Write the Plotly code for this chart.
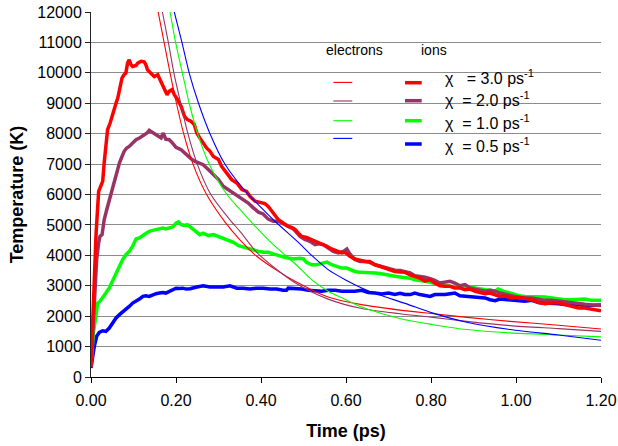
import plotly.graph_objects as go

# ---------------- data ----------------
# Ion temperatures (thick noisy curves)
t_ion_red = [0.000, 0.004, 0.008, 0.012, 0.018, 0.0235, 0.0275, 0.031, 0.035, 0.039, 0.045, 0.051,
             0.059, 0.063, 0.067, 0.073, 0.078, 0.082, 0.086, 0.090, 0.094, 0.098, 0.106, 0.110,
             0.118, 0.125, 0.129, 0.133, 0.141, 0.149, 0.157, 0.165, 0.173, 0.179, 0.184, 0.191,
             0.196, 0.204, 0.212, 0.220, 0.227, 0.235, 0.243, 0.249, 0.256, 0.264, 0.272, 0.280,
             0.288, 0.300, 0.307, 0.319, 0.331, 0.343, 0.355, 0.366, 0.374, 0.386, 0.398, 0.409,
             0.417, 0.425, 0.433, 0.441, 0.453, 0.464, 0.472, 0.480, 0.488, 0.496, 0.507, 0.519,
             0.531, 0.543, 0.555, 0.566, 0.578, 0.590, 0.598, 0.609, 0.621, 0.633, 0.645, 0.656,
             0.668, 0.680, 0.692, 0.703, 0.715, 0.727, 0.739, 0.751, 0.762, 0.774, 0.786, 0.798,
             0.809, 0.821, 0.833, 0.845, 0.856, 0.868, 0.880, 0.892, 0.904, 0.915, 0.927, 0.939,
             0.951, 0.962, 0.974, 0.990, 1.006, 1.021, 1.037, 1.053, 1.068, 1.084, 1.100, 1.115,
             1.131, 1.147, 1.162, 1.178, 1.200]
T_ion_red = [350, 2000, 3600, 4730, 6100, 6320, 6430, 7040, 7580, 8130, 8350, 8680,
             9010, 9170, 9450, 9830, 9940, 9990, 10320, 10430, 10270, 10210, 10240, 10320,
             10380, 10360, 10270, 10100, 9990, 9880, 9940, 9720, 9500, 9280, 9390, 9450,
             9280, 9120, 8900, 8570, 8460, 8410, 8300, 8020, 7860, 7690, 7530, 7420,
             7250, 7150, 6930, 6710, 6490, 6380, 6160, 6100, 5940, 5780, 5740, 5700,
             5610, 5450, 5340, 5170, 5060, 4950, 4920, 4850, 4730, 4620, 4590, 4520,
             4430, 4380, 4300, 4210, 4130, 4080, 4100, 3970, 3880, 3840, 3800, 3800,
             3690, 3640, 3580, 3550, 3470, 3450, 3440, 3360, 3310, 3250, 3150, 3200,
             3090, 3000, 2980, 2980, 2930, 2930, 2870, 2890, 2820, 2780, 2740, 2760,
             2710, 2650, 2660, 2600, 2630, 2600, 2540, 2450, 2410, 2430, 2450, 2380,
             2320, 2270, 2270, 2240, 2180]

t_ion_purple = [0.000, 0.0078, 0.0133, 0.018, 0.021, 0.026, 0.031, 0.037, 0.043, 0.051, 0.059, 0.067,
                0.073, 0.078, 0.084, 0.090, 0.098, 0.106, 0.114, 0.120, 0.125, 0.132, 0.137, 0.141,
                0.149, 0.157, 0.165, 0.170, 0.176, 0.184, 0.192, 0.200, 0.212, 0.224, 0.235, 0.245,
                0.256, 0.264, 0.276, 0.288, 0.300, 0.311, 0.323, 0.335, 0.347, 0.358, 0.370, 0.382,
                0.394, 0.405, 0.417, 0.429, 0.441, 0.452, 0.464, 0.476, 0.484, 0.492, 0.503, 0.515,
                0.527, 0.535, 0.547, 0.558, 0.570, 0.582, 0.594, 0.602, 0.609, 0.621, 0.633, 0.645,
                0.656, 0.668, 0.680, 0.692, 0.703, 0.715, 0.727, 0.739, 0.751, 0.762, 0.774, 0.786,
                0.798, 0.809, 0.821, 0.833, 0.845, 0.856, 0.868, 0.880, 0.892, 0.904, 0.915, 0.927,
                0.939, 0.951, 0.962, 0.974, 0.990, 1.006, 1.021, 1.037, 1.053, 1.068, 1.084, 1.100,
                1.115, 1.131, 1.147, 1.162, 1.178, 1.200]
T_ion_purple = [350, 2540, 3860, 4410, 4620, 4680, 5170, 5500, 5830, 6270, 6600, 7040,
                7250, 7420, 7530, 7580, 7690, 7800, 7860, 7910, 7970, 8020, 8110, 8080,
                8000, 7930, 7860, 8020, 7820, 7800, 7690, 7550, 7470, 7310, 7180, 7090,
                7040, 6980, 6820, 6650, 6490, 6270, 6160, 6050, 5940, 5850, 5720, 5560,
                5420, 5360, 5190, 5120, 5120, 5040, 4950, 4870, 4750, 4620, 4520, 4460,
                4350, 4380, 4350, 4240, 4130, 4080, 4130, 4210, 4050, 3860, 3800, 3800,
                3770, 3690, 3640, 3580, 3550, 3510, 3500, 3470, 3420, 3330, 3310, 3280,
                3230, 3180, 3090, 3110, 3150, 3090, 3000, 3040, 2930, 2890, 2870, 2820,
                2850, 2820, 2760, 2730, 2670, 2600, 2600, 2600, 2560, 2520, 2520, 2490,
                2450, 2430, 2410, 2390, 2370, 2350]

t_ion_green = [0.000, 0.0055, 0.0102, 0.0157, 0.021, 0.0275, 0.035, 0.043, 0.051, 0.059, 0.067, 0.0745,
               0.082, 0.090, 0.098, 0.106, 0.114, 0.122, 0.129, 0.137, 0.145, 0.153, 0.161, 0.169,
               0.176, 0.184, 0.192, 0.200, 0.206, 0.212, 0.220, 0.227, 0.235, 0.243, 0.256, 0.264,
               0.276, 0.288, 0.300, 0.311, 0.323, 0.335, 0.347, 0.358, 0.370, 0.382, 0.394, 0.405,
               0.417, 0.429, 0.441, 0.452, 0.464, 0.476, 0.492, 0.500, 0.507, 0.519, 0.531, 0.543,
               0.555, 0.566, 0.578, 0.590, 0.602, 0.609, 0.621, 0.633, 0.645, 0.656, 0.668, 0.680,
               0.692, 0.703, 0.715, 0.727, 0.739, 0.751, 0.762, 0.774, 0.786, 0.798, 0.809, 0.821,
               0.833, 0.845, 0.856, 0.868, 0.880, 0.892, 0.904, 0.915, 0.927, 0.939, 0.951, 0.958,
               0.970, 0.986, 1.006, 1.021, 1.037, 1.053, 1.068, 1.084, 1.100, 1.115, 1.131, 1.147,
               1.162, 1.178, 1.200]
T_ion_green = [350, 1450, 1880, 2430, 2490, 2600, 2760, 2930, 3150, 3420, 3640, 3860,
               4020, 4130, 4300, 4540, 4570, 4650, 4730, 4790, 4820, 4840, 4870, 4900,
               4870, 4890, 4930, 5060, 5100, 5010, 4980, 5010, 4920, 4800, 4680, 4730,
               4650, 4680, 4620, 4570, 4520, 4430, 4320, 4270, 4240, 4160, 4130, 4100,
               4100, 4050, 3990, 3950, 3910, 3880, 3900, 3880, 3770, 3690, 3690, 3730,
               3780, 3690, 3640, 3580, 3580, 3530, 3470, 3440, 3440, 3420, 3420, 3400,
               3360, 3330, 3310, 3290, 3280, 3250, 3200, 3180, 3150, 3110, 3070, 3040,
               3000, 2980, 2980, 2960, 2930, 2960, 2930, 2890, 2870, 2850, 2820, 2890,
               2820, 2760, 2670, 2650, 2650, 2630, 2630, 2600, 2560, 2540, 2540, 2540,
               2560, 2520, 2520]

t_ion_blue = [0.000, 0.0039, 0.0078, 0.0133, 0.0196, 0.0275, 0.035, 0.043, 0.051, 0.059, 0.067, 0.0745,
              0.082, 0.090, 0.098, 0.106, 0.114, 0.122, 0.129, 0.137, 0.145, 0.153, 0.161, 0.169,
              0.176, 0.184, 0.192, 0.200, 0.208, 0.216, 0.224, 0.233, 0.249, 0.264, 0.280, 0.296,
              0.311, 0.327, 0.343, 0.358, 0.374, 0.390, 0.405, 0.421, 0.437, 0.452, 0.460, 0.464,
              0.480, 0.496, 0.511, 0.527, 0.543, 0.558, 0.574, 0.590, 0.605, 0.621, 0.637, 0.652,
              0.668, 0.684, 0.700, 0.715, 0.727, 0.739, 0.751, 0.762, 0.774, 0.786, 0.798, 0.809,
              0.821, 0.833, 0.845, 0.856, 0.868, 0.880, 0.892, 0.904, 0.915, 0.927, 0.939, 0.951,
              0.962, 0.974, 0.990, 1.006, 1.021, 1.037, 1.053, 1.068, 1.084, 1.100, 1.115, 1.131,
              1.147, 1.162, 1.178, 1.200]
T_ion_blue = [300, 680, 1010, 1340, 1470, 1520, 1500, 1610, 1800, 1940, 2050, 2130,
              2210, 2320, 2430, 2490, 2560, 2650, 2670, 2650, 2710, 2740, 2760, 2780,
              2760, 2810, 2870, 2920, 2910, 2920, 2890, 2900, 2960, 3000, 2960, 2960,
              2960, 3000, 2920, 2920, 2890, 2920, 2920, 2890, 2890, 2850, 2850, 2920,
              2910, 2890, 2850, 2840, 2820, 2850, 2850, 2820, 2820, 2820, 2850, 2780,
              2760, 2730, 2760, 2710, 2750, 2710, 2710, 2760, 2710, 2670, 2650, 2710,
              2710, 2710, 2740, 2760, 2670, 2650, 2630, 2630, 2600, 2600, 2540, 2510,
              2560, 2540, 2520, 2490, 2490, 2520, 2450, 2430, 2430, 2410, 2380, 2380,
              2380, 2350, 2370, 2370]

# Electron temperatures (thin smooth curves, enter from above the 12000 K top)
t_el_red = [0.158, 0.172, 0.186, 0.201, 0.218, 0.240, 0.272, 0.315, 0.351, 0.390, 0.440, 0.480,
            0.558, 0.637, 0.727, 0.805, 0.884, 0.986, 1.100, 1.200]
T_el_red = [12000, 11000, 10000, 9000, 8000, 7000, 6000, 5100, 4500, 3970, 3480, 3150,
            2630, 2380, 2200, 2080, 1960, 1830, 1700, 1580]

t_el_purple = [0.168, 0.182, 0.195, 0.211, 0.228, 0.250, 0.282, 0.325, 0.351, 0.390, 0.440, 0.480,
               0.558, 0.637, 0.727, 0.805, 0.884, 0.986, 1.100, 1.200]
T_el_purple = [12000, 11000, 10000, 9000, 8000, 7000, 6000, 5200, 4780, 4100, 3500, 3100,
               2560, 2250, 2080, 1960, 1830, 1690, 1590, 1500]

t_el_green = [0.186, 0.199, 0.215, 0.231, 0.251, 0.278, 0.320, 0.351, 0.390, 0.429, 0.486, 0.519,
              0.558, 0.598, 0.637, 0.676, 0.739, 0.805, 0.884, 0.986, 1.100, 1.200]
T_el_green = [12000, 11000, 10000, 9000, 8000, 7000, 6000, 5500, 4900, 4350, 3650, 3200,
              2820, 2550, 2300, 2120, 1880, 1720, 1560, 1450, 1380, 1320]

t_el_blue = [0.196, 0.214, 0.231, 0.253, 0.280, 0.315, 0.370, 0.390, 0.429, 0.486, 0.519, 0.558,
             0.598, 0.637, 0.676, 0.739, 0.805, 0.884, 0.986, 1.100, 1.200]
T_el_blue = [12000, 11000, 10000, 9000, 8000, 7000, 6000, 5720, 5170, 4450, 4000, 3530,
             3200, 2930, 2710, 2420, 2100, 1800, 1560, 1380, 1210]

series_labels = ["3.0", "2.0", "1.0", "0.5"]
colors = ["#FF0000", "#993366", "#00FF00", "#0000FF"]

x_ticks = [0.0, 0.2, 0.4, 0.6, 0.8, 1.0, 1.2]
y_ticks = list(range(0, 12001, 1000))

# ---------------- figure ----------------
FONT = "Liberation Sans, Arial, sans-serif"
fig = go.Figure()

ions = [(t_ion_red, T_ion_red), (t_ion_purple, T_ion_purple),
        (t_ion_green, T_ion_green), (t_ion_blue, T_ion_blue)]
elecs = [(t_el_red, T_el_red), (t_el_purple, T_el_purple),
         (t_el_green, T_el_green), (t_el_blue, T_el_blue)]

# ions drawn blue first, red last (red on top)
for i in [3, 2, 1, 0]:
    tx, ty = ions[i]
    fig.add_trace(go.Scatter(x=tx, y=ty, mode="lines",
                             line=dict(color=colors[i], width=3.5),
                             name="ions " + series_labels[i], hoverinfo="skip"))
for i in range(4):
    tx, ty = elecs[i]
    fig.add_trace(go.Scatter(x=tx, y=ty, mode="lines",
                             line=dict(color=colors[i], width=1.1, shape="spline", smoothing=0.8),
                             name="electrons " + series_labels[i], hoverinfo="skip"))

W, H = 618, 446
# plot area in page pixels: x 91..601, y 12.3..377.3
L, R, T, B = 91, 601, 12.3, 377.3
def px(x):
    return (x - L) / (R - L)
def py(y):
    return (B - y) / (B - T)

shapes = []
annotations = []
# legend background (covers gridlines)
shapes.append(dict(type="rect", xref="paper", yref="paper",
                   x0=px(326), x1=px(566), y0=py(156), y1=py(45),
                   fillcolor="white", line=dict(width=0), layer="between"))
annotations.append(dict(text="electrons", xref="paper", yref="paper", x=px(354.5), y=py(50),
                        showarrow=False, font=dict(family=FONT, size=14, color="black"),
                        xanchor="center", yanchor="middle"))
annotations.append(dict(text="ions", xref="paper", yref="paper", x=px(434), y=py(50),
                        showarrow=False, font=dict(family=FONT, size=14, color="black"),
                        xanchor="center", yanchor="middle"))
el_rows = [82.7, 101.3, 121, 138.7]
ion_rows = [83, 101, 121, 144.3]
lab_rows = [77.5, 99.5, 122, 145.5]
gaps = ["\u00a0\u00a0\u00a0", "\u00a0\u00a0", "\u00a0\u00a0", "\u00a0\u00a0"]
for i in range(4):
    shapes.append(dict(type="line", xref="paper", yref="paper",
                       x0=px(333.3), x1=px(352.3), y0=py(el_rows[i]), y1=py(el_rows[i]),
                       line=dict(color=colors[i], width=1.1), layer="above"))
    shapes.append(dict(type="line", xref="paper", yref="paper",
                       x0=px(405), x1=px(421.7), y0=py(ion_rows[i]), y1=py(ion_rows[i]),
                       line=dict(color=colors[i], width=3.5), layer="above"))
    annotations.append(dict(text="\u03c7" + gaps[i] + "= " + series_labels[i] + " ps<sup>-1</sup>",
                            xref="paper", yref="paper", x=px(443), y=py(lab_rows[i]),
                            showarrow=False, font=dict(family=FONT, size=16, color="black"),
                            xanchor="left", yanchor="middle"))

fig.update_layout(
    width=W, height=H,
    margin=dict(l=L, r=W - R, t=T, b=H - B, pad=0),
    paper_bgcolor="white", plot_bgcolor="white",
    showlegend=False,
    font=dict(family=FONT, size=16, color="black"),
    shapes=shapes, annotations=annotations,
    xaxis=dict(range=[0, 1.2], tickvals=x_ticks, tickformat=".2f",
               showgrid=False, zeroline=False,
               showline=True, linecolor="black", linewidth=1,
               ticks="outside", ticklen=5, tickcolor="black", tickwidth=1,
               ticklabelstandoff=4,
               tickfont=dict(family=FONT, size=16, color="black"),
               title=dict(text="<b>Time (ps)</b>", font=dict(family=FONT, size=18, color="black"),
                          standoff=16),
               automargin=False, fixedrange=True),
    yaxis=dict(range=[0, 12000], tickvals=y_ticks, tickformat="d",
               showgrid=True, gridcolor="#8c8c8c", gridwidth=1, zeroline=False,
               showline=True, linecolor="#222222", linewidth=1,
               ticks="outside", ticklen=5, tickcolor="#222222", tickwidth=1,
               tickfont=dict(family=FONT, size=16, color="black"),
               title=dict(text="<b>Temperature (K)</b>", font=dict(family=FONT, size=18, color="black"),
                          standoff=8),
               automargin=False, fixedrange=True),
)

# remove the browser's default 8px body margin so the figure sits at (0, 0)
fig.write_html("out.html", config={"displayModeBar": False, "staticPlot": True},
               post_script="document.body.style.margin='0px';")
